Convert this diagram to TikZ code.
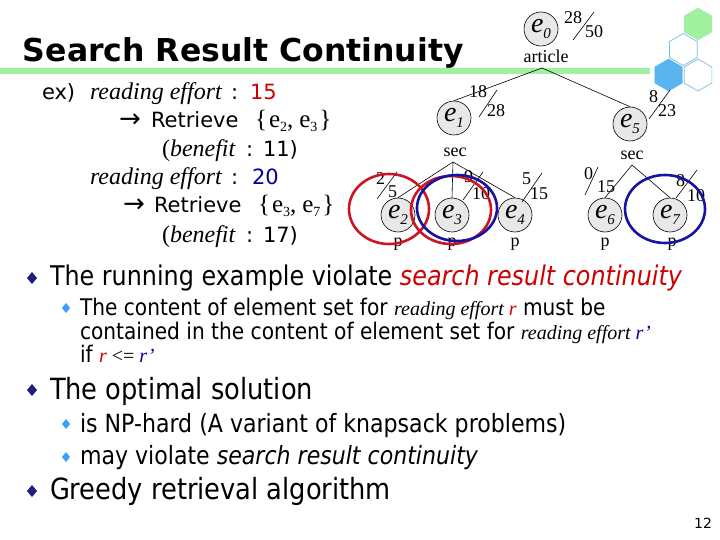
\documentclass[tikz,border=0pt]{standalone}
\usepackage{fontspec}
\setmainfont{Liberation Serif}
\newfontfamily\vsans{DejaVu Sans}
\newfontfamily\tsans[FakeStretch=0.88]{DejaVu Sans}
\newfontfamily\tms{Liberation Serif}
\newcommand\fs[1]{\fontsize{#1}{#1}\selectfont}
\definecolor{cred}{RGB}{204,0,0}
\definecolor{cblue}{RGB}{0,0,153}
\definecolor{ringred}{RGB}{205,20,35}
\definecolor{ringblue}{RGB}{20,20,160}
\definecolor{nodegray}{RGB}{232,232,232}
\definecolor{hgreen}{RGB}{160,240,160}
\definecolor{hblue}{RGB}{90,180,240}
\definecolor{hline}{RGB}{120,190,220}
\definecolor{navy}{RGB}{30,30,130}
\definecolor{lblue}{RGB}{60,160,250}
\newcommand\elab[1]{{\tms\itshape\fs{28}e}\raisebox{-6pt}{\tms\itshape\fs{15}#1}}
\newcommand\esub[1]{\raisebox{-4pt}{\fs{14}#1}}
\tikzset{
  txt/.style={anchor=base west, inner sep=0, outer sep=0},
  lt/.style={txt, font=\vsans\fs{21}},
  li/.style={txt, font=\tms\itshape\fs{24}},
  bt/.style={txt, font=\tsans\fs{29.2}},
  bts/.style={txt, font=\tsans\fs{27.1}},
  st/.style={txt, font=\tsans\fs{25.1}},
  sts/.style={txt, font=\tsans\fs{22.9}},
  enode/.style={circle, draw=black, line width=0.6pt, fill=nodegray, minimum size=34pt, inner sep=0},
  lab/.style={inner sep=0, font=\tms\fs{18}},
  fr/.style={txt, font=\tms\fs{18}},
  sl/.style={line width=0.6pt},
  edge/.style={line width=0.6pt},
  redring/.style={draw=ringred, line width=2.6pt},
  bluering/.style={draw=ringblue, line width=2.6pt},
}
\begin{document}
\begin{tikzpicture}[x=1pt,y=-1pt]
\useasboundingbox (0,0) rectangle (720,540);
\fill[white] (0,0) rectangle (720,540);
% hexagons
\draw[fill=hgreen, draw=hgreen] (698,24) +(30:16) -- +(90:16) -- +(150:16) -- +(210:16) -- +(270:16) -- +(330:16) -- cycle;
\draw[draw=hline, line width=0.7pt] (683.3,49.5) +(30:16) -- +(90:16) -- +(150:16) -- +(210:16) -- +(270:16) -- +(330:16) -- cycle;
\draw[fill=hblue, draw=hblue] (668.6,75) +(30:16) -- +(90:16) -- +(150:16) -- +(210:16) -- +(270:16) -- +(330:16) -- cycle;
\draw[draw=hline, line width=0.7pt] (698,75) +(30:16) -- +(90:16) -- +(150:16) -- +(210:16) -- +(270:16) -- +(330:16) -- cycle;
% green rule
\draw[hgreen, line width=6pt] (0,71.5) -- (650,71.5);
% title
\node[txt, font=\vsans\bfseries\fs{31.5}] (title) at (23,62) {Search Result Continuity};
% left block
\node[lt] (l1a) at (42,100) {ex)};
\node[li] (l1b) at (90,100) {reading effort};
\node[lt] (l1c) at (231,100) {:};
\node[lt, text=cred] (l1d) at (250,100) {15};
\node[lt, font=\vsans\fs{26}] (l2a) at (119,128) {→};
\node[lt] (l2b) at (151,128) {Retrieve};
\node[txt, font=\tms\fs{25}] (l2c) at (255,128) {\{\hspace{2pt}e\esub{2},\hspace{6pt}e\esub{3}\hspace{2pt}\}};
\node[txt, font=\tms\fs{24}] (l3a) at (162,157) {(};
\node[li] (l3b) at (170,157) {benefit};
\node[lt] (l3c) at (246,157) {:};
\node[lt] (l3d) at (263,157) {11)};
\node[li] (l4a) at (90,185) {reading effort};
\node[lt] (l4b) at (231,185) {:};
\node[lt, text=cblue] (l4c) at (252,185) {20};
\node[lt, font=\vsans\fs{26}] (l5a) at (123,213) {→};
\node[lt] (l5b) at (154,213) {Retrieve};
\node[txt, font=\tms\fs{25}] (l5c) at (258,213) {\{\hspace{2pt}e\esub{3},\hspace{6pt}e\esub{7}\hspace{2pt}\}};
\node[txt, font=\tms\fs{24}] (l6a) at (162,243) {(};
\node[li] (l6b) at (170,243) {benefit};
\node[lt] (l6c) at (246,243) {:};
\node[lt] (l6d) at (263,243) {17)};
% tree
\node[enode] (e0) at (541,29) {\elab{0}};
\node[lab, anchor=base] (art) at (546,63) {article};
\coordinate (ap0) at (542,68);
\node[enode] (e1) at (454,118) {\elab{1}};
\node[enode] (e5) at (630,124) {\elab{5}};
\node[lab, anchor=base] (sec1) at (455,157) {sec};
\node[lab, anchor=base] (sec2) at (632,160) {sec};
\coordinate (ap1) at (453,162);
\coordinate (ap2) at (632,165);
\node[enode] (e2) at (398,215) {\elab{2}};
\node[enode] (e3) at (452,215) {\elab{3}};
\node[enode] (e4) at (515,215) {\elab{4}};
\node[enode] (e6) at (605,215) {\elab{6}};
\node[enode] (e7) at (670,215) {\elab{7}};
\foreach \n/\x in {p2/398,p3/452,p4/515,p6/605,p7/672}
  \node[lab, anchor=base] (\n) at (\x,246) {p};
\draw[edge] (ap0) -- (e1.north);
\draw[edge] (ap0) -- (e5.north);
\draw[edge] (ap1) -- (e2.north);
\draw[edge] (ap1) -- (e3.north);
\draw[edge] (ap1) -- (e4.north);
\draw[edge] (ap2) -- (e6.north);
\draw[edge] (ap2) -- (e7.north);
% fractions
\node[fr] (f0n) at (564,24) {28}; \draw[sl] (573,40) -- (594,12); \node[fr] (f0d) at (585,38) {50};
\node[fr] (f1n) at (469,98) {18}; \draw[sl] (479,117) -- (497,90); \node[fr] (f1d) at (487,117) {28};
\node[fr] (f5n) at (649,103) {8}; \draw[sl] (649,119) -- (670,90); \node[fr] (f5d) at (658,117) {23};
\node[fr] (f2n) at (376,185) {2}; \draw[sl] (377,199) -- (397,172); \node[fr] (f2d) at (388,197) {5};
\node[fr] (f3n) at (464,183) {9}; \draw[sl] (463,200) -- (483,172); \node[fr] (f3d) at (472,200) {10};
\node[fr] (f4n) at (522,185) {5}; \draw[sl] (522,202) -- (542,173); \node[fr] (f4d) at (530,200) {15};
\node[fr] (f6n) at (584,180) {0}; \draw[sl] (585,195) -- (598,167); \node[fr] (f6d) at (597,193) {15};
\node[fr] (f7n) at (676,187) {8}; \draw[sl] (676,198) -- (697,170); \node[fr] (f7d) at (687,202) {10};
% rings
\draw[redring] (389,209) ellipse [x radius=40, y radius=35];
\draw[redring] (451,210) ellipse [x radius=40, y radius=34];
\draw[bluering] (457,208) ellipse [x radius=40, y radius=33];
\draw[bluering] (665,209) ellipse [x radius=40, y radius=34];
% bullets
\foreach \y in {278,390,491}
  \fill[navy] (32,\y-6) -- (37,\y) -- (32,\y+6) -- (27,\y) -- cycle;
\foreach \y in {308,424,457}
  \fill[lblue] (66,\y-5) -- (70,\y) -- (66,\y+5) -- (62,\y) -- cycle;
\node[bts] (b1) at (50,285) {The running example violate \textcolor{cred}{\itshape search result continuity}};
\node[sts] (s1) at (80,315) {The content of element set for {\tms\itshape\fs{20}reading effort \textcolor{cred}{r}} must be};
\node[sts] (s1b) at (80,339) {contained in the content of element set for {\tms\itshape\fs{20}reading effort \textcolor{cblue}{r’}}};
\node[sts] (s1c) at (80,362) {if {\tms\fs{20}\textcolor{cred}{\itshape r} <= \textcolor{cblue}{\itshape r’}}};
\node[bt] (b2) at (50,399) {The optimal solution};
\node[st] (s2) at (80,432) {is NP-hard (A variant of knapsack problems)};
\node[st] (s3) at (80,464) {may violate {\itshape search result continuity}};
\node[bt] (b3) at (50,499) {Greedy retrieval algorithm};
\node[txt, anchor=base east, font=\vsans\fs{14}] (pg) at (712,528) {12};
\end{tikzpicture}
\end{document}
